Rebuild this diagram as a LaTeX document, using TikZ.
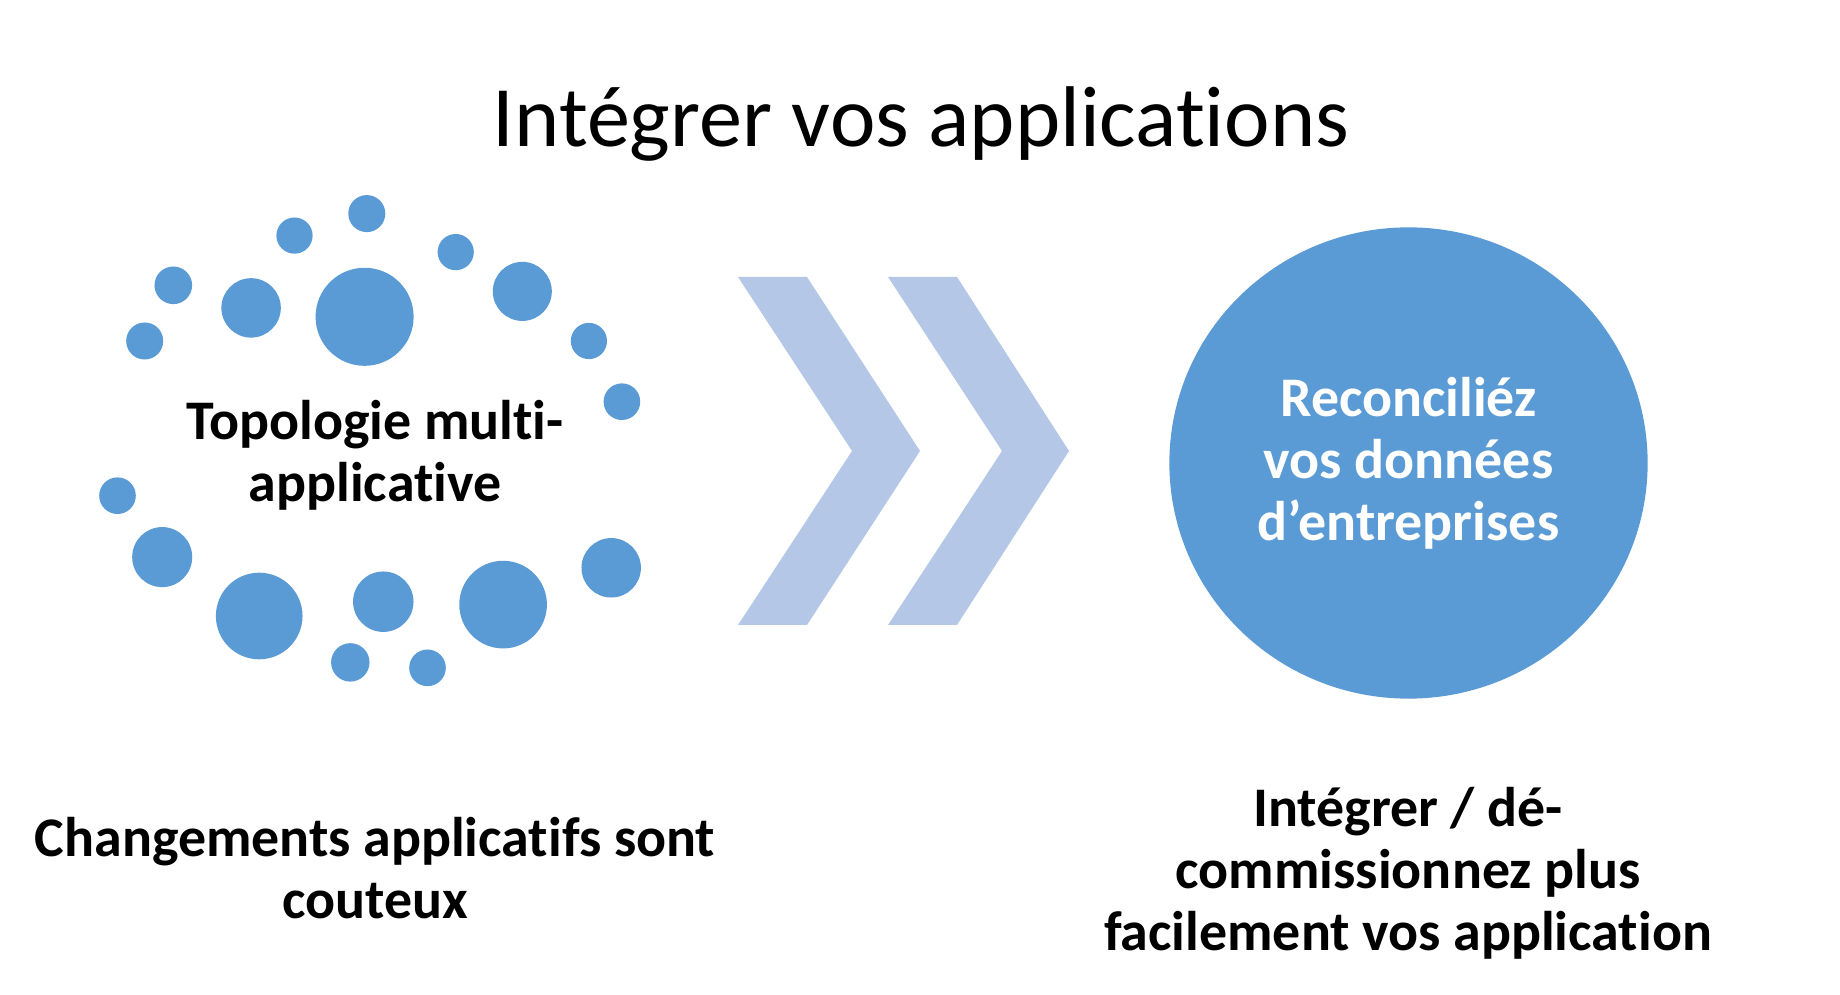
\documentclass[tikz,border=0pt]{standalone}
\usepackage{fontspec}
\setmainfont{Carlito}[Ligatures=NoCommon]
\usetikzlibrary{shapes.geometric}
\definecolor{dotblue}{HTML}{5B9BD5}
\definecolor{chevblue}{HTML}{B4C7E7}
\begin{document}
\begin{tikzpicture}[x=0.01cm,y=-0.01cm,
  dotfill/.style={fill=dotblue},
  chevfill/.style={fill=chevblue},
  titletext/.style={font={\fontsize{24.5}{29}\selectfont}, inner sep=0pt},
  bodytext/.style={font={\fontsize{15.9}{17.6}\selectfont\bfseries}, align=center, inner sep=0pt},
  bigcircle/.style={ellipse, fill=dotblue, text=white, minimum width=4.78cm, minimum height=4.71cm, inner sep=0pt,
    font={\fontsize{15.9}{17.6}\selectfont\bfseries}, align=center}]
\useasboundingbox[fill=white] (0,0) rectangle (1840,995);
% title
\node[titletext, anchor=base] (title) at (921,147) {Intégrer vos applications};
% dots
\fill[dotfill] (366.8,213.6) circle[radius=0.185cm];
\fill[dotfill] (294.5,235.6) circle[radius=0.181cm];
\fill[dotfill] (455.7,252.1) circle[radius=0.181cm];
\fill[dotfill] (173.3,285.3) circle[radius=0.188cm];
\fill[dotfill] (251.1,307.9) circle[radius=0.297cm];
\fill[dotfill] (364.6,316.8) circle[radius=0.49cm];
\fill[dotfill] (522.3,291.4) circle[radius=0.295cm];
\fill[dotfill] (144.7,341.0) circle[radius=0.185cm];
\fill[dotfill] (588.9,341.0) circle[radius=0.181cm];
\fill[dotfill] (621.9,401.7) circle[radius=0.183cm];
\fill[dotfill] (117.5,495.7) circle[radius=0.183cm];
\fill[dotfill] (162.2,557.1) circle[radius=0.30cm];
\fill[dotfill] (259.2,616.0) circle[radius=0.433cm];
\fill[dotfill] (383.3,601.7) circle[radius=0.302cm];
\fill[dotfill] (503.1,604.6) circle[radius=0.438cm];
\fill[dotfill] (611.2,567.8) circle[radius=0.297cm];
\fill[dotfill] (350.3,662.4) circle[radius=0.192cm];
\fill[dotfill] (427.5,667.8) circle[radius=0.183cm];
\node[bodytext] (topo) at (375,455) {Topologie multi-\\applicative};
% chevrons
\fill[chevfill] (738,277) -- (807,277) -- (920,451) -- (807,625) -- (738,625) -- (852,451) -- cycle;
\fill[chevfill] (888,277) -- (957,277) -- (1069,451) -- (957,625) -- (888,625) -- (1002,451) -- cycle;
% big circle
\node[bigcircle] (recon) at (1408.5,463) {Reconciliéz\\vos données\\d’entreprises};
% bottom texts
\node[bodytext] (cost) at (375,868) {Changements applicatifs sont\\couteux};
\node[bodytext] (easy) at (1408,873) {Intégrer / dé-\\commissionnez plus\\facilement vos application};
\end{tikzpicture}
\end{document}
